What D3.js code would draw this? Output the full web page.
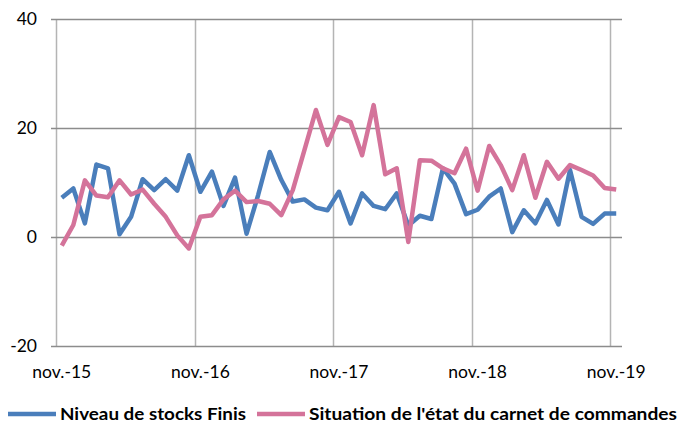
<!DOCTYPE html>
<html>
  <head>
    <meta charset="utf-8" />
    <script src="https://d3js.org/d3.v7.min.js"></script>
    <style>
      body { margin: 0; background: #fff; }
      text { font-family: Lato, "Open Sans", sans-serif; fill: #000; }
    </style>
  </head>
  <body>
    <div id="chart"></div>
    <script>
      // monthly categories, nov. 2015 -> nov. 2019
      var months = [
        "2015-11","2015-12","2016-01","2016-02","2016-03","2016-04","2016-05","2016-06","2016-07","2016-08","2016-09","2016-10",
        "2016-11","2016-12","2017-01","2017-02","2017-03","2017-04","2017-05","2017-06","2017-07","2017-08","2017-09","2017-10",
        "2017-11","2017-12","2018-01","2018-02","2018-03","2018-04","2018-05","2018-06","2018-07","2018-08","2018-09","2018-10",
        "2018-11","2018-12","2019-01","2019-02","2019-03","2019-04","2019-05","2019-06","2019-07","2019-08","2019-09","2019-10",
        "2019-11"
      ];
      var stocks = [
        7.2, 8.9, 2.5, 13.3, 12.6, 0.5, 3.7, 10.6, 8.6, 10.6, 8.5, 15.0,
        8.3, 12.0, 5.7, 10.9, 0.6, 7.7, 15.6, 10.5, 6.5, 6.9, 5.4, 4.9,
        8.3, 2.5, 8.0, 5.7, 5.1, 8.0, 2.1, 3.9, 3.3, 12.6, 9.8, 4.2,
        5.0, 7.4, 8.9, 0.9, 4.9, 2.5, 6.8, 2.3, 12.3, 3.7, 2.4, 4.3,
        4.3
      ];
      var carnet = [
        -1.6, 2.2, 10.4, 7.6, 7.3, 10.4, 7.8, 8.7, 6.1, 3.7, 0.3, -2.1,
        3.7, 4.0, 6.9, 8.5, 6.4, 6.6, 6.1, 4.0, 8.6, 15.9, 23.3, 16.9,
        22.0, 21.1, 15.0, 24.2, 11.5, 12.6, -0.9, 14.1, 14.0, 12.6, 11.7, 16.2,
        8.5, 16.7, 13.2, 8.6, 15.0, 7.2, 13.8, 10.7, 13.2, 12.3, 11.3, 9.0,
        8.7
      ];
      var yTicks = [-20, 0, 20, 40];
      var xTickMonths = ["2015-11", "2016-11", "2017-11", "2018-11", "2019-11"];
      var xTickLabels = ["nov.-15", "nov.-16", "nov.-17", "nov.-18", "nov.-19"];

      var series = [
        { name: "Niveau de stocks Finis", values: stocks, color: "#4a7ebb" },
        { name: "Situation de l'état du carnet de commandes", values: carnet, color: "#d4739a" }
      ];

      var width = 680, height = 425;
      var plotLeft = 56, plotRight = 622, plotTop = 19, plotBottom = 346;

      var svg = d3.select("#chart").append("svg")
        .attr("width", width)
        .attr("height", height);

      var x = d3.scaleBand().domain(months).range([plotLeft, plotRight]);
      var y = d3.scaleLinear().domain([-20, 40]).range([plotBottom, plotTop]);

      // vertical gridlines at yearly category boundaries
      svg.append("g").selectAll("line")
        .data(xTickMonths)
        .join("line")
        .attr("x1", function (d) { return Math.round(x(d)) + 0.5; })
        .attr("x2", function (d) { return Math.round(x(d)) + 0.5; })
        .attr("y1", plotTop)
        .attr("y2", plotBottom)
        .attr("stroke", "#b4b4b4")
        .attr("stroke-width", 1.5);

      // horizontal gridlines + ticks
      svg.append("g").selectAll("line")
        .data(yTicks)
        .join("line")
        .attr("x1", plotLeft - 5)
        .attr("x2", plotRight)
        .attr("y1", function (d) { return Math.round(y(d)) + 0.5; })
        .attr("y2", function (d) { return Math.round(y(d)) + 0.5; })
        .attr("stroke", "#8c8c8c")
        .attr("stroke-width", 1.5);

      // y labels
      svg.append("g").selectAll("text")
        .data(yTicks)
        .join("text")
        .attr("x", 37)
        .attr("y", function (d) { return y(d) + 6; })
        .attr("text-anchor", "end")
        .style("font-size", "17.5px")
        .text(function (d) { return d; });

      // x labels centred on the category
      svg.append("g").selectAll("text")
        .data(xTickMonths)
        .join("text")
        .attr("x", function (d) { return x(d) + x.bandwidth() / 2; })
        .attr("y", 378)
        .attr("text-anchor", "middle")
        .style("font-size", "17.5px")
        .text(function (d, i) { return xTickLabels[i]; });

      var line = d3.line()
        .x(function (d, i) { return x(months[i]) + x.bandwidth() / 2; })
        .y(function (d) { return y(d); });

      svg.append("g").selectAll("path")
        .data(series)
        .join("path")
        .attr("d", function (d) { return line(d.values); })
        .attr("fill", "none")
        .attr("stroke", function (d) { return d.color; })
        .attr("stroke-width", 4.5)
        .attr("stroke-linejoin", "round");

      // legend
      var legendX = [8, 257];
      var legendTextW = [186, 368];
      var legend = svg.append("g").selectAll("g")
        .data(series)
        .join("g")
        .attr("transform", function (d, i) { return "translate(" + legendX[i] + ",414)"; });

      legend.append("line")
        .attr("x1", 0).attr("x2", 48)
        .attr("stroke", function (d) { return d.color; })
        .attr("stroke-width", 4.5);

      legend.append("text")
        .attr("x", 52)
        .attr("y", 6)
        .attr("textLength", function (d, i) { return legendTextW[i]; })
        .attr("lengthAdjust", "spacingAndGlyphs")
        .style("font-size", "17px")
        .style("font-weight", "bold")
        .text(function (d) { return d.name; });
    </script>
  </body>
</html>
